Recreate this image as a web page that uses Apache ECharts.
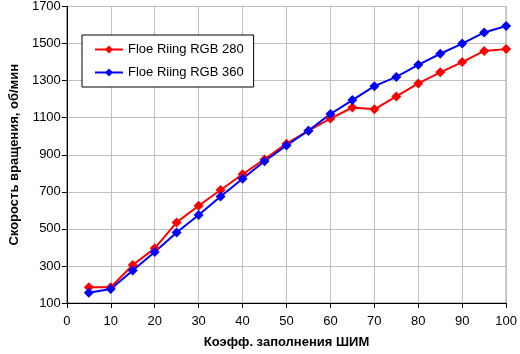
<!DOCTYPE html>
<html><head><meta charset="utf-8">
<script src="https://cdn.jsdelivr.net/npm/echarts@6/dist/echarts.min.js"></script>
<style>html,body{margin:0;padding:0;background:#fff}#c{width:520px;height:354px}</style>
</head><body><div id="c"></div>
<script>
const xValues = [5,10,15,20,25,30,35,40,45,50,55,60,65,70,75,80,85,90,95,100];
const rgb280 = [185,185,305,395,535,625,710,795,875,960,1030,1095,1155,1145,1215,1285,1345,1400,1460,1470];
const rgb360 = [155,175,275,375,480,575,675,770,865,950,1030,1120,1195,1270,1320,1385,1445,1500,1560,1595];
const seriesNames = ['Floe Riing RGB 280','Floe Riing RGB 360'];
const xTitle = 'Коэфф. заполнения ШИМ';
const yTitle = 'Скорость вращения, об/мин';

const font = 'Liberation Sans, Arial, sans-serif';
const chart = echarts.init(document.getElementById('c'));
function mk(name, vals, color){
  return {name, type:'line', data: xValues.map((x,i)=>[x, vals[i]]),
    symbol:'diamond', symbolSize:10, showSymbol:true,
    lineStyle:{color, width:2}, itemStyle:{color}, animation:false};
}
chart.setOption({
  animation:false,
  grid:{left:57, right:10, top:5, bottom:47, show:true, borderColor:'#808080', borderWidth:1},
  legend:{orient:'vertical', left:82, top:35, width:168, itemWidth:28, itemHeight:10, itemGap:10,
    padding:[8,10,8,12], borderColor:'#000', borderWidth:1, backgroundColor:'#fff',
    textStyle:{fontFamily:font, fontSize:13, color:'#000'}, data:seriesNames},
  xAxis:{type:'value', min:0, max:100, interval:10,
    name:xTitle, nameLocation:'middle', nameGap:33,
    nameTextStyle:{fontFamily:font, fontSize:13, fontWeight:'bold', color:'#000'},
    axisLine:{lineStyle:{color:'#000', width:1}},
    axisTick:{show:true, length:5, inside:false, lineStyle:{color:'#000'}},
    axisLabel:{fontFamily:font, fontSize:13, color:'#000', margin:12},
    splitLine:{show:true, lineStyle:{color:'#c0c0c0', width:1}}},
  yAxis:{type:'value', min:100, max:1700, interval:200,
    name:yTitle, nameLocation:'middle', nameGap:44,
    nameTextStyle:{fontFamily:font, fontSize:13, fontWeight:'bold', color:'#000'},
    axisLine:{show:true, lineStyle:{color:'#000', width:1}},
    axisTick:{show:true, length:5, lineStyle:{color:'#000'}},
    axisLabel:{fontFamily:font, fontSize:13, color:'#000', margin:6, formatter:v=>String(v)},
    splitLine:{show:true, lineStyle:{color:'#c0c0c0', width:1}}},
  series:[mk(seriesNames[0], rgb280, '#ff0000'), mk(seriesNames[1], rgb360, '#0000ff')]
});
</script></body></html>
